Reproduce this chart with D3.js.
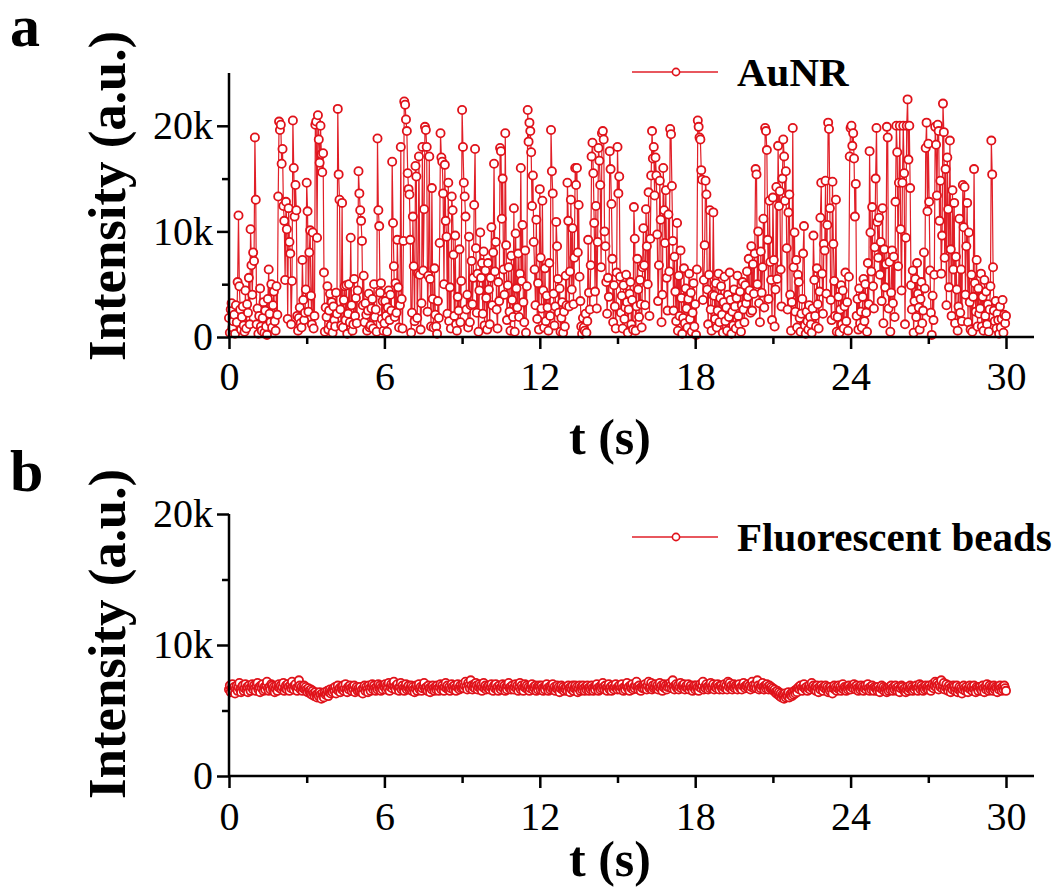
<!DOCTYPE html>
<html>
<head><meta charset="utf-8">
<style>
  body { margin: 0; background: #fff; }
  svg text { font-family: "Liberation Serif", "Times New Roman", serif; fill: #000; }
  .tick line { stroke: #000; stroke-width: 2.5; }
  .tick text { font-size: 40px; }
</style>
</head>
<body>
<script src="https://d3js.org/d3.v7.min.js"></script>
<script>
// AuNR intensity (thousands, a.u.), one row per second
var aunr = [
  1.8,0.4,2.6,3.2,0.9,1.5,2.1,0.3,3.0,1.4,5.2,11.5,4.8,2.6,0.7,1.9,2.9,1.1,0.5,4.4,0.8,3.1,2.3,5.6,1.2,10.2,6.8,4.0,8.0,7.2,
  18.9,13.0,1.2,2.7,0.3,2.0,4.6,1.0,0.6,1.8,3.3,0.4,2.5,1.0,0.2,3.6,6.4,2.2,1.4,5.0,0.9,3.0,4.3,1.5,0.6,4.8,2.1,13.3,20.4,19.6,
  20.1,16.4,17.8,12.4,11.0,5.4,12.8,10.2,1.7,12.2,9.0,7.9,1.2,5.3,20.5,16.0,11.4,14.4,12.0,2.0,0.6,1.8,2.8,1.3,0.9,7.3,3.5,1.6,2.3,4.5,
  14.6,11.9,2.4,8.0,10.1,3.9,1.2,9.9,0.8,2.0,20.1,20.4,9.4,21.0,18.7,16.5,20.0,17.3,15.6,17.4,6.1,0.5,2.8,1.9,4.8,0.7,2.5,4.1,1.1,3.3,
  0.4,2.9,1.6,1.0,4.2,2.2,21.6,15.4,13.0,2.6,1.1,12.7,0.9,3.5,4.8,1.6,4.9,0.3,2.2,5.0,1.4,9.4,3.0,0.6,1.2,5.5,2.0,3.7,1.3,4.4,
  15.7,13.6,12.0,11.0,9.1,3.0,5.8,1.4,3.2,2.1,0.6,2.5,4.1,0.9,1.1,2.7,3.6,0.8,5.0,1.9,2.6,0.5,18.8,12.0,10.5,4.2,5.1,1.7,3.4,0.6,
  1.3,3.4,2.0,0.5,2.8,4.4,1.6,4.0,2.5,16.6,10.8,6.7,1.9,5.1,2.3,9.2,4.7,0.9,3.0,18.0,3.6,0.8,9.1,22.3,22.0,20.6,19.5,15.5,14.0,13.5,
  9.2,0.4,2.3,11.4,6.7,1.5,16.2,15.2,1.8,6.0,17.1,5.9,0.7,3.2,18.0,6.3,12.1,19.9,19.6,18.0,2.4,5.8,17.1,5.5,1.0,14.1,3.6,0.9,6.5,2.1,
  1.0,0.3,3.4,1.8,8.9,19.3,17.0,16.6,13.6,5.0,16.3,11.0,9.5,2.2,14.6,1.5,4.7,0.8,13.3,12.0,7.8,2.0,9.6,1.2,0.6,3.8,2.5,8.3,1.4,5.3,
  21.5,18.0,14.6,13.3,11.4,2.6,4.0,0.9,9.5,1.4,3.0,7.2,3.1,5.6,12.5,17.8,8.4,2.3,6.0,0.5,4.4,9.9,5.6,7.0,2.2,8.1,1.1,6.3,3.7,0.7,
  7.0,4.5,1.2,5.6,10.4,3.0,8.0,16.4,6.2,9.0,2.6,0.8,5.2,3.4,17.9,17.6,11.2,15.0,6.4,4.0,19.3,8.7,1.6,4.9,6.6,2.4,0.6,7.7,3.5,1.9,
  12.2,0.5,9.8,4.6,2.8,7.9,1.9,6.0,16.0,5.3,10.6,3.3,1.4,8.2,0.4,4.8,21.5,18.5,20.3,19.5,17.5,12.4,15.3,9.0,6.4,3.0,11.1,1.7,5.1,0.7,
  14.0,7.5,2.7,12.9,4.4,0.9,6.5,1.5,3.9,2.8,0.6,7.0,2.0,19.6,15.7,13.6,4.1,1.1,2.9,10.9,8.6,5.5,2.3,4.6,0.5,1.8,3.3,0.4,2.4,1.0,
  5.8,3.0,14.6,11.0,2.9,6.2,13.0,4.5,10.3,3.1,7.5,16.0,14.4,16.0,8.0,12.5,5.7,3.4,1.0,0.3,1.8,0.9,0.6,2.2,0.4,1.5,9.2,4.2,2.6,6.8,
  17.1,18.4,15.5,10.8,4.3,12.4,2.7,9.0,17.9,16.7,14.4,6.6,19.3,19.5,18.7,10.0,8.6,5.2,2.2,5.6,3.8,17.6,15.9,12.6,7.4,1.4,4.9,2.9,0.8,6.1,
  18.0,13.6,15.2,5.7,2.3,3.9,0.8,4.9,1.7,2.8,5.9,3.3,0.4,2.6,4.1,5.2,1.2,3.5,0.7,12.3,9.3,0.6,2.9,7.4,4.5,1.9,5.4,3.1,0.9,6.6,
  10.3,6.8,3.0,12.1,8.6,5.0,13.7,2.0,9.3,15.3,19.5,16.9,18.0,13.4,17.0,15.3,9.7,3.4,6.8,14.8,11.1,1.4,4.0,16.0,12.0,8.9,13.9,5.6,2.5,11.6,
  6.2,19.7,19.2,14.3,9.1,2.5,7.6,4.3,1.5,10.8,0.6,5.8,2.0,8.2,3.7,0.3,1.8,6.5,1.3,4.6,2.7,0.9,3.6,6.0,1.7,4.2,0.5,2.3,5.1,1.0,
  3.1,0.2,6.4,20.5,19.9,18.9,18.7,15.8,14.9,3.5,5.4,8.7,14.8,13.5,4.5,1.2,5.9,12.0,2.6,0.6,4.0,11.8,3.9,1.7,5.1,0.9,2.5,6.0,1.4,3.7,
  4.8,2.1,0.4,3.3,5.7,1.5,2.8,0.6,4.0,1.9,6.1,3.5,0.3,2.4,1.1,4.5,2.9,0.8,3.7,5.8,2.0,1.2,4.3,0.5,3.0,5.2,2.6,1.4,4.9,3.2,
  6.2,3.8,7.4,4.4,2.3,8.6,2.5,6.9,4.1,7.9,15.9,15.4,5.0,10.0,3.2,1.4,8.1,4.2,6.6,11.2,2.8,19.8,19.5,17.7,9.2,3.6,12.9,7.1,5.4,1.6,
  13.2,7.3,1.0,4.5,14.2,5.5,18.1,12.4,13.8,6.4,2.9,15.0,18.7,17.1,12.9,15.7,8.4,2.6,11.8,13.5,4.0,0.6,3.3,19.8,6.6,9.9,2.4,7.3,0.9,5.9,
  5.2,1.8,0.5,2.2,3.6,7.9,10.5,1.1,0.3,2.4,1.5,0.7,3.0,1.9,1.2,0.4,2.7,9.6,5.4,2.0,1.0,6.5,3.1,0.8,4.3,11.3,14.6,6.0,2.2,8.8,
  8.2,14.8,4.1,10.6,20.3,19.7,12.2,3.5,1.6,14.7,8.8,5.3,2.0,13.0,0.5,1.9,3.8,0.4,2.6,4.9,1.2,4.4,0.8,2.9,6.1,1.5,3.3,0.6,5.7,17.1,
  19.8,20.0,18.1,19.3,16.9,11.4,14.5,2.0,3.6,0.7,4.6,1.3,2.4,0.9,3.8,5.5,1.5,5.0,2.3,0.5,7.0,3.1,17.6,9.9,6.2,12.3,4.8,2.7,8.5,15.0,
  19.8,10.9,7.5,11.3,5.9,9.0,3.4,12.2,1.3,8.3,4.7,6.9,19.9,18.9,2.7,7.1,0.5,4.2,8.2,3.2,7.6,1.9,12.8,20.0,17.5,6.7,14.6,20.0,10.2,4.4,
  14.6,20.0,15.5,1.2,9.4,20.0,22.5,16.8,20.0,14.1,4.9,2.6,6.3,0.4,3.4,5.5,1.9,7.0,4.1,2.8,0.7,3.6,5.2,1.3,2.5,8.0,4.6,17.9,20.3,11.9,
  18.3,12.8,6.3,2.3,0.2,3.9,1.6,5.9,19.9,18.2,13.4,20.1,19.5,11.0,14.8,6.0,9.6,22.1,19.4,7.5,15.9,3.0,17.0,12.1,4.7,18.6,8.3,2.0,13.9,6.4,
  12.7,1.3,7.6,4.5,0.6,2.9,11.2,2.3,6.4,1.5,14.4,10.4,14.2,4.0,8.6,12.7,1.4,9.9,3.3,0.7,5.9,0.5,3.8,15.9,5.1,2.4,7.3,1.0,4.6,2.2,
  2.7,6.0,1.0,3.8,0.6,5.4,2.0,4.3,1.2,3.1,0.5,2.6,4.8,18.6,15.4,6.6,2.5,1.5,3.4,0.8,2.2,1.6,0.3,2.9,0.9,1.7,3.5,0.4,2.1,1.3,
  2.0
];

// Fluorescent beads intensity (thousands, a.u.)
var beads = [
  6.6,6.9,6.4,6.7,7.0,6.5,6.8,6.3,6.7,6.9,6.5,6.8,7.1,6.6,6.4,6.8,6.9,6.5,6.7,7.0,6.6,6.8,6.4,6.9,6.7,6.5,6.8,7.0,6.6,6.9,
  6.7,6.5,6.9,7.1,6.6,6.8,6.4,6.9,6.7,7.0,6.5,6.8,6.6,6.9,7.2,6.7,6.5,6.8,6.6,7.0,6.9,6.6,6.8,6.4,6.7,6.9,6.5,6.8,7.0,6.7,
  6.9,6.6,6.8,7.1,6.5,6.7,6.9,6.6,7.0,6.8,6.5,6.9,6.7,7.2,6.8,6.6,6.9,7.0,6.7,6.5,6.8,7.3,6.9,6.6,6.8,6.5,6.7,6.9,6.6,6.8,
  6.6,6.4,6.7,6.5,6.3,6.6,6.2,6.5,6.3,6.1,6.4,6.2,6.0,6.3,6.1,6.4,6.2,5.9,6.3,6.1,6.0,6.4,6.2,6.3,6.5,6.1,6.4,6.6,6.3,6.5,
  6.4,6.7,6.5,6.8,6.3,6.6,6.9,6.5,6.7,6.4,6.8,6.6,6.9,6.5,6.7,7.0,6.6,6.4,6.8,6.6,6.9,6.7,6.5,6.8,6.6,6.9,6.4,6.7,6.8,6.5,
  6.7,6.5,6.8,6.4,6.6,6.3,6.7,6.9,6.5,6.8,6.6,6.4,6.9,6.7,6.5,6.8,7.0,6.6,6.9,6.7,6.5,6.8,6.6,7.0,6.7,6.9,6.5,6.8,6.6,6.9,
  6.8,7.0,6.6,6.9,6.7,7.1,6.5,6.8,7.0,6.7,6.9,7.2,6.8,6.6,6.9,7.0,6.7,6.5,6.8,7.1,6.6,6.9,6.7,6.5,6.8,7.0,6.6,6.8,6.9,6.6,
  6.7,6.9,6.5,6.8,6.6,6.4,6.7,6.9,6.5,6.8,7.0,6.6,6.8,6.5,6.7,6.9,7.1,6.7,6.6,6.8,6.5,6.9,6.7,6.4,6.8,6.6,6.9,6.7,6.5,6.8,
  6.6,6.9,6.7,6.5,6.8,7.0,6.6,6.9,6.7,6.5,6.8,7.1,6.7,6.9,6.6,6.8,6.5,6.7,7.0,6.8,6.6,6.9,6.7,6.5,6.8,7.0,6.7,6.6,6.9,6.7,
  6.8,7.0,6.7,6.9,7.2,6.8,6.6,7.1,6.9,6.7,7.3,6.9,6.6,6.8,7.0,6.7,7.1,6.9,6.6,6.8,7.0,6.7,6.9,6.5,6.8,7.1,6.7,6.9,6.6,6.8,
  6.7,6.9,6.6,6.8,7.0,6.7,6.5,6.9,6.7,7.0,6.6,6.8,6.5,6.9,6.7,6.6,6.8,7.0,6.7,6.9,6.5,6.8,6.6,6.9,7.1,6.7,6.8,6.6,6.9,6.7,
  6.6,6.8,7.0,6.7,6.9,6.5,6.8,7.1,6.6,6.9,6.7,6.5,6.8,7.0,6.7,6.9,6.6,6.8,6.5,6.7,6.9,7.0,6.6,6.8,6.7,6.9,6.5,6.8,6.6,6.9,
  6.8,6.6,6.9,6.7,6.5,6.8,6.6,6.9,7.0,6.7,6.5,6.8,6.6,6.9,6.7,7.0,6.6,6.8,6.5,6.7,6.9,6.6,6.8,6.4,6.7,6.9,6.6,6.8,6.5,6.7,
  6.6,6.8,6.5,6.9,6.7,6.4,6.8,6.6,6.9,6.5,6.7,6.9,6.6,6.8,6.4,6.7,6.9,6.5,6.8,6.6,6.9,6.7,6.5,6.8,6.6,6.9,6.7,6.5,6.8,6.6,
  6.9,6.7,6.5,6.8,6.6,6.9,7.0,6.7,6.5,6.8,6.6,6.9,6.7,7.1,6.8,6.6,6.9,6.7,6.5,6.8,7.0,6.6,6.8,6.5,6.9,6.7,6.6,6.8,7.0,6.7,
  6.6,6.8,6.9,6.6,6.8,7.0,6.7,6.5,6.8,6.6,6.9,7.1,6.7,6.8,6.5,6.9,6.7,7.0,6.6,6.8,6.7,6.9,7.2,6.8,6.6,6.9,6.7,6.5,6.8,6.7,
  6.9,6.7,7.0,6.8,6.6,6.9,7.2,6.7,6.8,7.1,6.6,6.9,6.7,6.8,7.0,6.7,6.9,6.6,6.8,7.1,6.7,6.9,6.5,6.8,7.0,6.7,6.9,6.6,6.8,7.0,
  6.8,7.1,6.9,6.7,7.3,6.8,6.6,6.9,7.0,6.7,6.9,6.6,6.8,7.1,6.7,6.9,6.8,7.0,6.6,6.8,6.9,6.7,7.0,6.6,6.8,6.9,6.7,6.5,6.8,6.9,
  6.6,6.9,6.7,6.8,6.5,6.8,7.0,6.7,6.9,7.2,6.6,6.8,6.7,7.0,6.8,6.6,6.9,6.7,7.1,6.8,6.7,7.0,6.6,6.8,6.9,6.7,7.0,6.8,6.6,6.9,
  6.9,6.7,6.6,6.8,7.0,6.7,6.9,6.6,7.2,6.8,7.1,6.7,6.9,6.6,6.8,7.0,6.7,6.9,6.8,6.6,6.9,7.0,6.7,6.8,6.6,6.9,7.1,6.8,6.7,6.9,
  6.8,7.0,6.7,6.9,6.6,6.8,7.2,6.9,6.7,6.8,7.0,6.7,7.3,6.9,6.6,6.8,6.7,6.9,7.1,6.8,6.6,6.9,6.7,7.0,6.8,6.6,6.9,6.7,6.8,6.6,
  6.7,6.5,6.6,6.4,6.3,6.5,6.2,6.4,6.1,6.3,6.0,6.2,6.1,5.9,6.3,6.0,6.2,6.1,6.4,6.0,6.2,6.3,6.1,6.4,6.2,6.5,6.3,6.6,6.4,6.7,
  6.8,6.6,6.9,6.7,6.5,6.8,7.0,6.7,6.6,6.8,6.5,6.7,6.9,6.6,6.8,7.1,6.7,6.9,6.6,6.8,6.5,6.9,6.7,6.4,6.8,6.6,6.9,6.7,6.5,6.8,
  6.7,6.9,6.6,6.8,6.4,6.7,6.5,6.8,6.6,6.3,6.7,6.9,6.6,6.8,6.5,6.7,6.9,6.6,6.8,6.5,6.7,7.0,6.6,6.8,6.7,6.5,6.8,6.6,6.9,6.7,
  6.6,6.8,6.9,6.7,7.0,6.8,6.6,6.9,6.7,6.5,6.8,6.6,6.9,6.7,6.8,6.5,6.7,6.9,6.6,6.8,7.0,6.7,6.5,6.8,6.6,6.9,6.7,6.5,6.8,6.7,
  6.7,6.5,6.8,6.6,6.4,6.7,6.9,6.6,6.8,6.5,6.7,6.6,6.4,6.7,6.5,6.8,6.6,6.9,6.7,6.5,6.8,6.6,6.9,6.7,6.5,6.8,6.6,6.4,6.7,6.9,
  6.8,6.6,6.5,6.7,6.4,6.6,6.8,6.5,6.7,6.9,6.6,6.8,6.5,6.7,6.6,6.8,6.9,6.7,6.5,6.8,7.0,6.6,6.9,6.7,6.5,6.8,6.6,6.9,6.7,6.8,
  6.6,6.9,6.7,6.5,6.8,7.0,6.7,6.9,7.2,6.8,7.1,6.9,6.6,7.0,6.8,7.3,6.7,6.9,7.1,6.6,6.8,7.0,6.7,6.5,6.9,6.7,6.4,6.8,6.6,6.9,
  6.8,6.5,6.7,6.9,6.4,6.6,6.8,6.5,6.7,6.3,6.6,6.9,6.7,6.5,6.8,6.6,6.4,6.7,6.9,6.6,6.8,6.5,6.7,6.9,6.6,6.4,6.8,6.7,6.5,6.8,
  6.8,6.6,6.5,6.9,6.7,6.4,6.8,6.6,7.0,6.7,6.5,6.9,6.6,6.8,6.7,6.5,6.9,6.6,6.8,6.7,6.4,6.8,6.6,6.9,6.7,6.5,6.8,6.6,6.9,6.7,
  6.5
];

var tEnd = 30;                       // recording length (s)
var xMajor = [0, 6, 12, 18, 24, 30];
var xMinor = [3, 9, 15, 21, 27];
var yLabelsA = ["0", "10k", "20k"];
var yLabelsB = ["0", "10k", "20k"];

var red = "#e0121a";
var lineRed = "#e11f28";

var svg = d3.select("body").append("svg")
    .attr("width", 1062)
    .attr("height", 896);

var x = d3.scaleLinear().domain([0, 30]).range([229, 1006]);

function panel(opt) {
  var y = d3.scaleLinear().domain([0, opt.yMax]).range([opt.y0, opt.yTop]);
  var g = svg.append("g");
  var step = tEnd / (opt.data.length - 1);
  var pts = opt.data.map(function(v, i) { return [i * step, v]; });

  // trace
  g.append("path")
    .datum(pts)
    .attr("fill", "none")
    .attr("stroke", lineRed)
    .attr("stroke-width", 1.2)
    .attr("d", d3.line().x(function(d) { return x(d[0]); }).y(function(d) { return y(d[1]); }));

  g.append("g").selectAll("circle")
    .data(pts)
    .enter().append("circle")
    .attr("cx", function(d) { return x(d[0]); })
    .attr("cy", function(d) { return y(d[1]); })
    .attr("r", 4.1)
    .attr("fill", "#fff")
    .attr("stroke", red)
    .attr("stroke-width", 1.8);

  // axes
  var xa = g.append("g").attr("transform", "translate(0," + opt.y0 + ")")
    .call(d3.axisBottom(x).tickValues(xMajor).tickSize(12).tickPadding(opt.xPad));
  xa.select(".domain").remove();
  xa.selectAll("text").attr("dy", "0.71em");
  var xm = g.append("g").attr("transform", "translate(0," + opt.y0 + ")")
    .call(d3.axisBottom(x).tickValues(xMinor).tickSize(7).tickFormat(""));
  xm.select(".domain").remove();

  var ya = g.append("g").attr("transform", "translate(229,0)")
    .call(d3.axisLeft(y).tickValues([0, 10, 20]).tickSize(12).tickPadding(4)
      .tickFormat(function(d, i) { return opt.yLabels[i]; }));
  ya.select(".domain").remove();
  var ym = g.append("g").attr("transform", "translate(229,0)")
    .call(d3.axisLeft(y).tickValues([5, 15]).tickSize(7).tickFormat(""));
  ym.select(".domain").remove();

  g.append("line")
    .attr("x1", 229).attr("x2", 229)
    .attr("y1", opt.y0 + 1).attr("y2", opt.yTop)
    .attr("stroke", "#000").attr("stroke-width", 2.5);
  g.append("line")
    .attr("x1", 228).attr("x2", x(30) + 28)
    .attr("y1", opt.y0).attr("y2", opt.y0)
    .attr("stroke", "#000").attr("stroke-width", 2.5);

  // titles
  g.append("text")
    .attr("x", 610).attr("y", opt.xTitleY)
    .attr("text-anchor", "middle")
    .style("font-size", "50px").style("font-weight", "bold")
    .text("t (s)");
  g.append("text")
    .attr("transform", "translate(125," + opt.yMid + ") rotate(-90)")
    .attr("text-anchor", "middle")
    .attr("textLength", 330)
    .attr("lengthAdjust", "spacingAndGlyphs")
    .style("font-size", "52px").style("font-weight", "bold")
    .text("Intensity (a.u.)");
  g.append("text")
    .attr("x", 10).attr("y", opt.letterY)
    .style("font-size", "60px").style("font-weight", "bold")
    .text(opt.letter);

  // legend
  var lg = g.append("g").attr("transform", "translate(0," + opt.legY + ")");
  lg.append("line").attr("x1", 632).attr("x2", 718).attr("y1", 0).attr("y2", 0)
    .attr("stroke", lineRed).attr("stroke-width", 1.5);
  lg.append("circle").attr("cx", 676).attr("cy", 0).attr("r", 3.6)
    .attr("fill", "#fff").attr("stroke", red).attr("stroke-width", 1.6);
  lg.append("text").attr("x", 737).attr("y", 14)
    .style("font-size", "41px").style("font-weight", "bold")
    .text(opt.name);
}

panel({ data: aunr, name: "AuNR", yMax: 25, y0: 337, yTop: 73, xPad: 13, xTitleY: 454,
        yLabels: yLabelsA, yMid: 196, legY: 72, letter: "a", letterY: 46 });
panel({ data: beads, name: "Fluorescent beads", yMax: 20, y0: 776, yTop: 514, xPad: 14, xTitleY: 876,
        yLabels: yLabelsB, yMid: 634, legY: 537, letter: "b", letterY: 491 });
</script>
</body>
</html>
